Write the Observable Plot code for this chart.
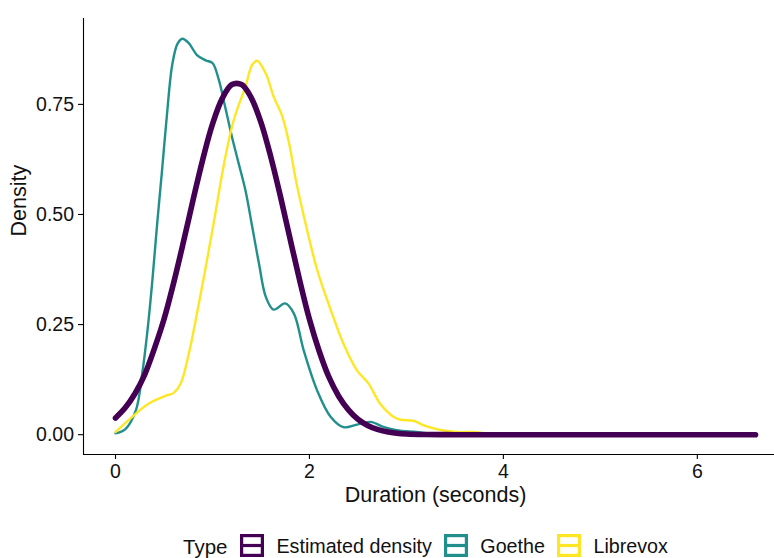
<!DOCTYPE html>
<html>
<head>
<meta charset="utf-8">
<script src="https://cdn.jsdelivr.net/npm/d3@7"></script>
<script src="https://cdn.jsdelivr.net/npm/@observablehq/plot@0.6"></script>
<style>
html, body { margin: 0; padding: 0; background: #fff; width: 774px; height: 558px; overflow: hidden; }
#chart svg { display: block; }
.legend { display: flex; align-items: center; height: 46px; padding-left: 183px; box-sizing: border-box;
  font-family: "Liberation Sans", Arial, Helvetica, sans-serif; font-size: 19.7px; color: #111; }
.legend .title { font-size: 20.5px; margin-right: 13px; position: relative; top: 1.5px; }
.legend .key { margin-right: 12px; display: block; }
.legend .lab { margin-right: 12.5px; position: relative; top: 1.5px; }
</style>
</head>
<body>
<div id="chart"></div>
<div class="legend" id="legend"></div>
<script>
const types = ["Estimated density", "Goethe", "Librevox"];
const colors = ["#440154", "#21908C", "#FDE725"];
const legendTitle = "Type";
const xTitle = "Duration (seconds)";
const yTitle = "Density";
const xTicks = [0, 2, 4, 6];
const yTicks = [0, 0.25, 0.5, 0.75];

const estX = [0, 0.1, 0.2, 0.3, 0.4, 0.5, 0.6, 0.7, 0.8, 0.9, 1.0, 1.1, 1.2, 1.3, 1.4, 1.5, 1.6, 1.7, 1.8, 1.9, 2.0, 2.1, 2.2, 2.3, 2.4, 2.5, 2.6, 2.7, 2.8, 2.9, 3.0, 3.2, 3.5, 6.6];
const estY = [0.038, 0.061, 0.093, 0.136, 0.195, 0.262, 0.345, 0.437, 0.533, 0.625, 0.705, 0.763, 0.795, 0.795, 0.765, 0.709, 0.632, 0.542, 0.445, 0.35, 0.262, 0.19, 0.131, 0.088, 0.057, 0.035, 0.021, 0.012, 0.0065, 0.0034, 0.0017, 0.0004, 0, 0];

const goetheX = [0, 0.1, 0.21, 0.275, 0.33, 0.38, 0.43, 0.48, 0.53, 0.585, 0.64, 0.69, 0.756, 0.84, 0.93, 1.0, 1.065, 1.13, 1.2, 1.27, 1.34, 1.41, 1.48, 1.55, 1.63, 1.75, 1.84, 1.94, 2.08, 2.22, 2.35, 2.49, 2.63, 2.77, 2.9, 3.1, 3.3, 3.6, 4.0, 6.6];
const goetheY = [0.003, 0.012, 0.055, 0.138, 0.237, 0.35, 0.48, 0.6, 0.725, 0.84, 0.888, 0.899, 0.889, 0.862, 0.85, 0.844, 0.806, 0.745, 0.677, 0.616, 0.555, 0.472, 0.388, 0.313, 0.284, 0.298, 0.275, 0.192, 0.1, 0.04, 0.017, 0.023, 0.029, 0.017, 0.01, 0.006, 0.002, 0.0005, 0, 0];

const librevoxX = [0, 0.17, 0.34, 0.515, 0.6, 0.67, 0.756, 0.84, 0.93, 1.02, 1.12, 1.22, 1.34, 1.41, 1.46, 1.55, 1.63, 1.72, 1.79, 1.86, 1.97, 2.08, 2.22, 2.35, 2.49, 2.61, 2.73, 2.87, 2.94, 3.08, 3.18, 3.32, 3.52, 3.69, 3.83, 4.1, 6.6];
const librevoxY = [0.006, 0.04, 0.07, 0.088, 0.095, 0.115, 0.184, 0.275, 0.38, 0.49, 0.616, 0.715, 0.79, 0.84, 0.849, 0.82, 0.768, 0.723, 0.662, 0.578, 0.47, 0.374, 0.283, 0.207, 0.146, 0.116, 0.07, 0.04, 0.034, 0.031, 0.021, 0.012, 0.006, 0.006, 0.003, 0, 0];

const rows = [];
function add(type, xs, ys) { xs.forEach((x, i) => rows.push({type, x, y: ys[i]})); }
add("Goethe", goetheX, goetheY);
add("Librevox", librevoxX, librevoxY);
add("Estimated density", estX, estY);

const font = '"Liberation Sans", Arial, Helvetica, sans-serif';

const plot = Plot.plot({
  width: 774,
  height: 522,
  marginLeft: 83,
  marginRight: -13,
  marginTop: 18,
  marginBottom: 68,
  style: {fontFamily: font, background: "#fff", color: "#111", overflow: "hidden"},
  x: {domain: [-0.33, 6.93]},
  y: {domain: [-0.045, 0.945]},
  color: {domain: types, range: colors},
  marks: [
    Plot.lineY(rows.filter(d => d.type !== "Estimated density"), {x: "x", y: "y", z: "type", stroke: "type", strokeWidth: 2.4, curve: "catmull-rom"}),
    Plot.lineY(rows.filter(d => d.type === "Estimated density"), {x: "x", y: "y", stroke: "type", strokeWidth: 5.6, curve: "catmull-rom"}),
    Plot.ruleY([-0.045], {stroke: "#000", strokeWidth: 1.1}),
    Plot.ruleX([-0.33], {stroke: "#000", strokeWidth: 1.1}),
    Plot.axisX({ticks: xTicks, tickFormat: d3.format("d"), tickSize: 5, tickPadding: 5, fontSize: 19.5, label: null, stroke: "#000", strokeWidth: 1.1, fill: "#111"}),
    Plot.axisY({ticks: yTicks, tickFormat: d3.format(".2f"), tickSize: 5, tickPadding: 4.5, fontSize: 19.5, label: null, stroke: "#000", strokeWidth: 1.1, fill: "#111"}),
    Plot.text([xTitle], {text: d => d, frameAnchor: "bottom", lineAnchor: "bottom", dy: 47, fontSize: 21.5, fill: "#111"}),
    Plot.text([yTitle], {text: d => d, frameAnchor: "left", rotate: -90, dx: -64, fontSize: 21.5, fill: "#111"})
  ]
});
document.getElementById("chart").appendChild(plot);

const legend = document.getElementById("legend");
const t = document.createElement("span");
t.className = "title";
t.textContent = legendTitle;
legend.appendChild(t);
types.forEach((name, i) => {
  const ns = "http://www.w3.org/2000/svg";
  const svg = document.createElementNS(ns, "svg");
  svg.setAttribute("width", 24); svg.setAttribute("height", 23);
  svg.setAttribute("class", "key");
  const r = document.createElementNS(ns, "rect");
  r.setAttribute("x", 1.6); r.setAttribute("y", 1.6); r.setAttribute("width", 20.8); r.setAttribute("height", 19.8);
  r.setAttribute("fill", "#fff"); r.setAttribute("stroke", colors[i]); r.setAttribute("stroke-width", 3.2);
  const l = document.createElementNS(ns, "line");
  l.setAttribute("x1", 1.6); l.setAttribute("x2", 22.4); l.setAttribute("y1", 11.5); l.setAttribute("y2", 11.5);
  l.setAttribute("stroke", colors[i]); l.setAttribute("stroke-width", 3.2);
  svg.appendChild(r); svg.appendChild(l);
  legend.appendChild(svg);
  const s = document.createElement("span");
  s.className = "lab";
  s.textContent = name;
  legend.appendChild(s);
});
</script>
</body>
</html>
